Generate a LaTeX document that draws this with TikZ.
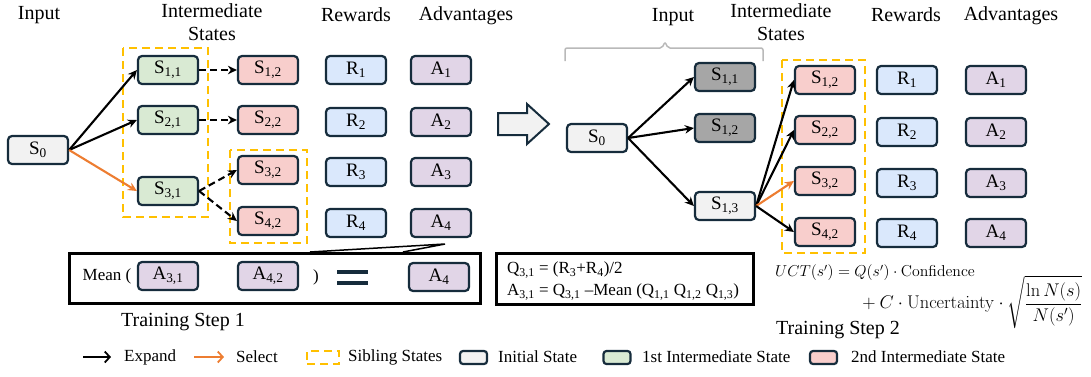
\documentclass[tikz,border=0pt]{standalone}
\usepackage{fix-cm}
\usepackage{amsmath}
\usepackage[no-math]{fontspec}
\setmainfont{Liberation Serif}
\usetikzlibrary{arrows.meta,positioning}

\definecolor{nodeline}{RGB}{22,44,60}
\definecolor{initfill}{RGB}{242,242,242}
\definecolor{firstfill}{RGB}{217,234,211}
\definecolor{secondfill}{RGB}{248,206,204}
\definecolor{rewardfill}{RGB}{218,232,252}
\definecolor{advfill}{RGB}{225,213,231}
\definecolor{prunedfill}{RGB}{166,166,166}
\definecolor{selectorange}{RGB}{237,125,49}
\definecolor{siblingyellow}{RGB}{255,192,0}

\begin{document}
\begin{tikzpicture}[x=1pt,y=-1pt,
  box/.style={draw=nodeline,line width=2.2pt,rounded corners=4pt,minimum width=60pt,minimum height=28pt,inner sep=0pt,font=\fontsize{19}{20}\selectfont},
  initbox/.style={box,fill=initfill},
  firstbox/.style={box,fill=firstfill},
  secondbox/.style={box,fill=secondfill},
  rewardbox/.style={box,fill=rewardfill},
  advbox/.style={box,fill=advfill},
  prunedbox/.style={box,fill=prunedfill},
  keybox/.style={box,rounded corners=3pt,minimum width=27pt,minimum height=13pt},
  heading/.style={font=\fontsize{20}{23}\selectfont,align=center,inner sep=0pt},
  legendtext/.style={font=\fontsize{17}{18}\selectfont,anchor=west,inner sep=0pt},
  expandarrow/.style={line width=2.1pt,-{Stealth[length=9pt,width=8.5pt]}},
  selectarrow/.style={expandarrow,draw=selectorange},
  dashedarrow/.style={expandarrow,dash pattern=on 7pt off 4pt},
  sibling/.style={draw=siblingyellow,line width=2.4pt,dash pattern=on 8pt off 5pt},
  formbox/.style={draw,line width=2.6pt,inner sep=0pt}]
\useasboundingbox (0,0) rectangle (1091,376);
% Training step 1: column headings
\node[heading] (in1) at (39,15) {Input};
\node[heading] (mid1) at (212,22) {Intermediate\\States};
\node[heading] (rew1) at (356,15) {Rewards};
\node[heading] (adv1) at (466,16) {Advantages};
% Training step 1: tree
\node[initbox] (s0) at (38,150) {S\textsubscript{0}};
\node[firstbox] (s11) at (168,70) {S\textsubscript{1,1}};
\node[firstbox] (s21) at (168,120) {S\textsubscript{2,1}};
\node[firstbox] (s31) at (168,191) {S\textsubscript{3,1}};
\node[secondbox] (s12) at (268,70) {S\textsubscript{1,2}};
\node[secondbox] (s22) at (268,120) {S\textsubscript{2,2}};
\node[secondbox] (s32) at (268,170) {S\textsubscript{3,2}};
\node[secondbox] (s42) at (268,221) {S\textsubscript{4,2}};
\foreach \i/\y in {1/70,2/122,3/172,4/223} {
  \node[rewardbox] (r\i) at (356,\y) {R\textsubscript{\i}};
  \node[advbox] (a\i) at (441,\y) {A\textsubscript{\i}};
}
\draw[sibling] (123,48) rectangle (208,217);
\draw[sibling] (230,150) rectangle (307,243);
\draw[expandarrow] (s0.east) -- (s11.west);
\draw[expandarrow] (s0.east) -- (s21.west);
\draw[selectarrow] (s0.east) -- (s31.west);
\draw[dashedarrow] (s11.east) -- (s12.west);
\draw[dashedarrow] (s21.east) -- (s22.west);
\draw[dashedarrow] (s31.east) -- (s32.west);
\draw[dashedarrow] (s31.east) -- (s42.west);
% Mean of the sibling advantages
\coordinate (tip) at (445,244);
\filldraw[fill=white,line width=1.5pt] (310,252) -- (tip) -- (403,252);
\node[formbox,minimum width=411pt,minimum height=50pt] (meanbox) at (275,278.5) {};
\node[font=\fontsize{17}{18}\selectfont,inner sep=0pt] (mean) at (107,276) {Mean (};
\node[advbox] (m31) at (168,276) {A\textsubscript{3,1}};
\node[advbox] (m42) at (268,276) {A\textsubscript{4,2}};
\node[font=\fontsize{17}{18}\selectfont,inner sep=0pt] (close) at (316,277) {)};
\draw[nodeline,line width=3.6pt] (337,272) -- (368,272) (337,283) -- (368,283);
\node[advbox] (m4) at (439,277) {A\textsubscript{4}};
\node[heading] (step1) at (183,322) {Training Step 1};
% Arrow between the two steps
\filldraw[fill=initfill,draw=nodeline,line width=2pt] (498,113) -- (527,113) -- (527,104) -- (549,124) -- (527,144) -- (527,135) -- (498,135) -- cycle;
% Training step 2: column headings
\node[heading] (in2) at (673,17) {Input};
\node[heading] (mid2) at (781,22) {Intermediate\\States};
\node[heading] (rew2) at (906,15) {Rewards};
\node[heading] (adv2) at (1011,16) {Advantages};
\draw[gray!55,line width=1.5pt,rounded corners=2pt] (565,61) -- (565,48) -- (662,48) -- (665,42) -- (668,48) -- (763,48) -- (763,61);
% Training step 2: tree
\node[initbox] (t0) at (597,138) {S\textsubscript{0}};
\node[prunedbox] (t11) at (725,77) {S\textsubscript{1,1}};
\node[prunedbox] (t12) at (725,128) {S\textsubscript{1,2}};
\node[initbox] (t13) at (725,206) {S\textsubscript{1,3}};
\node[secondbox] (u12) at (825,80) {S\textsubscript{1,2}};
\node[secondbox] (u22) at (825,130) {S\textsubscript{2,2}};
\node[secondbox] (u32) at (825,181) {S\textsubscript{3,2}};
\node[secondbox] (u42) at (825,232) {S\textsubscript{4,2}};
\foreach \i/\y in {1/80,2/132,3/183,4/233} {
  \node[rewardbox] (q\i) at (907,\y) {R\textsubscript{\i}};
  \node[advbox] (b\i) at (996,\y) {A\textsubscript{\i}};
}
\draw[sibling] (782,60) rectangle (865,253);
\draw[expandarrow] (t0.east) -- (t11.west);
\draw[expandarrow] (t0.east) -- (t12.west);
\draw[expandarrow] (t0.east) -- (t13.west);
\draw[expandarrow] (t13.east) -- (u12.west);
\draw[expandarrow] (t13.east) -- (u22.west);
\draw[selectarrow] (t13.east) -- (u32.west);
\draw[expandarrow] (t13.east) -- (u42.west);
% Value and UCT
\node[formbox,minimum width=257pt,minimum height=51pt] (qbox) at (625,279) {};
\node[anchor=west,inner sep=0pt,align=left,font=\fontsize{17}{22}\selectfont] (qtext) at (507,281)
  {Q\textsubscript{3,1} = (R\textsubscript{3}+R\textsubscript{4})/2\\
   A\textsubscript{3,1} = Q\textsubscript{3,1} --Mean (Q\textsubscript{1,1} Q\textsubscript{1,2} Q\textsubscript{1,3})};
\node[anchor=west,inner sep=0pt,font=\fontsize{15.8}{20}\selectfont] (uct) at (775,273)
  {$UCT(s') = Q(s')\cdot\mathrm{Confidence}$};
\node[anchor=west,inner sep=0pt,font=\fontsize{18.4}{20}\selectfont] (uncert) at (858,302)
  {$\displaystyle {}+ C\cdot\mathrm{Uncertainty}\cdot\sqrt{\frac{\ln N(s)}{N(s')}}$};
\node[heading] (step2) at (838,330) {Training Step 2};
% Legend
\coordinate (expA) at (83,357);
\coordinate (expB) at (111,357);
\coordinate (selA) at (194,357);
\coordinate (selB) at (224,357);
\draw[line width=1.8pt,-{Straight Barb[length=5pt,width=11pt]}] (expA) -- (expB);
\draw[selectorange,line width=1.8pt,-{Straight Barb[length=5pt,width=11pt]}] (selA) -- (selB);
\node[legendtext] (expandkey) at (124,357) {Expand};
\node[legendtext] (selectkey) at (236,357) {Select};
\node[sibling,minimum width=32pt,minimum height=13pt,inner sep=0pt] (keysib) at (323,357.5) {};
\node[legendtext] (sibkey) at (348,357) {Sibling States};
\node[keybox,fill=initfill] (keyinit) at (473.5,357.5) {};
\node[legendtext] (initkey) at (498,357) {Initial State};
\node[keybox,fill=firstfill] (keyfirst) at (617,357.5) {};
\node[legendtext] (firstkey) at (642,357) {1st Intermediate State};
\node[keybox,fill=secondfill] (keysecond) at (823.5,357.5) {};
\node[legendtext] (secondkey) at (851,357) {2nd Intermediate State};
\end{tikzpicture}
\end{document}
